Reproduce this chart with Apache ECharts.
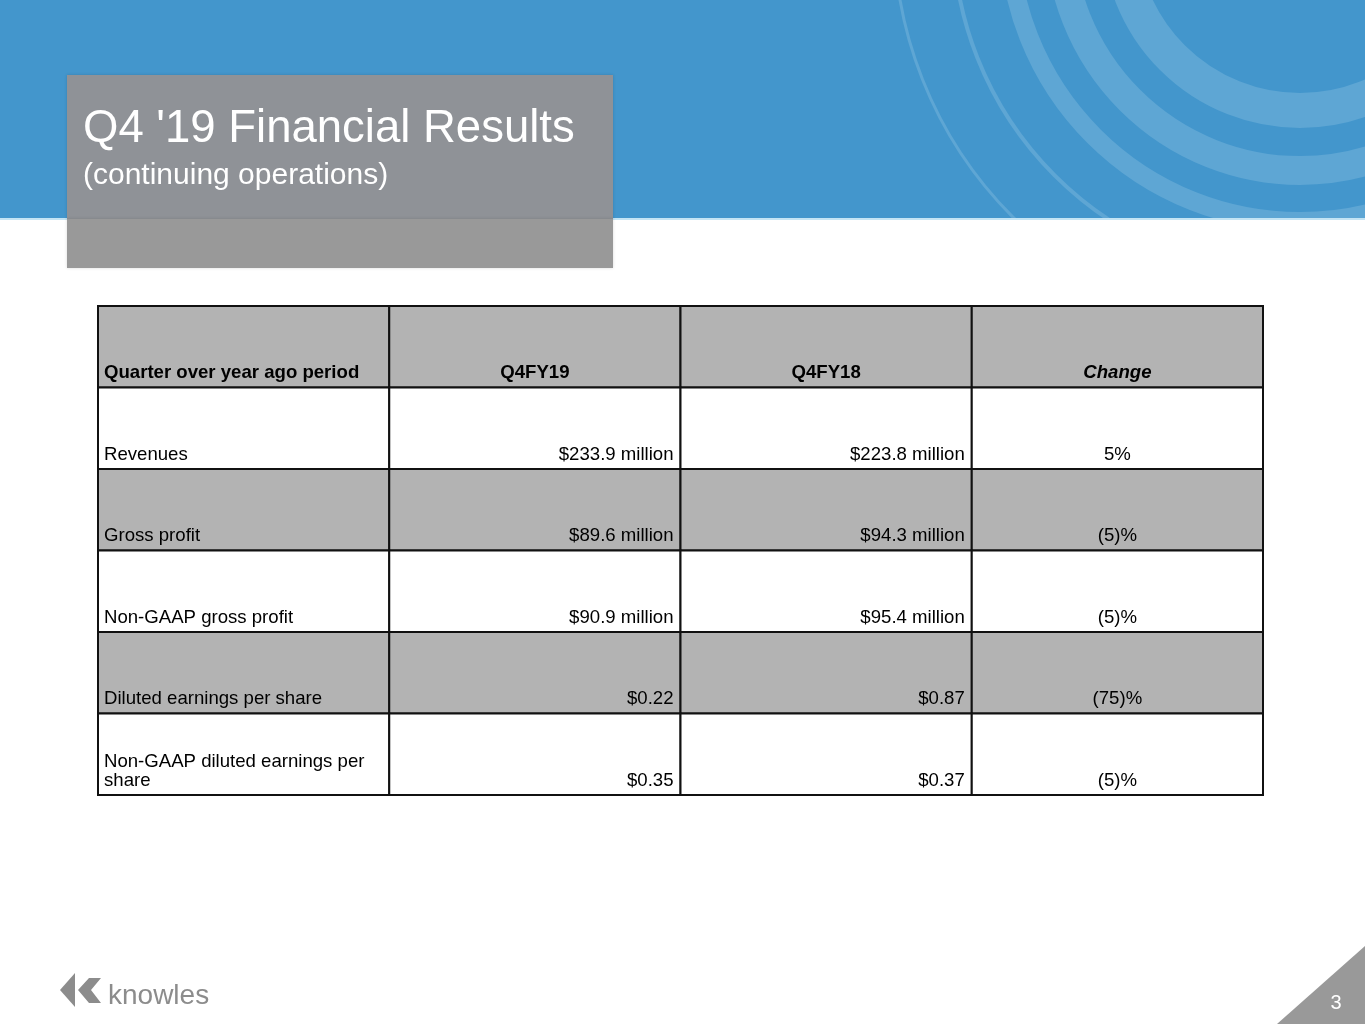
<!DOCTYPE html>
<html>
<head>
<meta charset="utf-8">
<script src="https://cdn.jsdelivr.net/npm/echarts@6/dist/echarts.min.js"></script>
<style>
  html, body { margin: 0; padding: 0; background: #fff; }
  #main { width: 1365px; height: 1024px; }
</style>
</head>
<body>
<div id="main"></div>
<script>
// table content
var headers = ['Quarter over year ago period', 'Q4FY19', 'Q4FY18', 'Change'];
var metrics = ['Revenues', 'Gross profit', 'Non-GAAP gross profit', 'Diluted earnings per share', 'Non-GAAP diluted earnings per\nshare'];
var q4fy19 = ['$233.9 million', '$89.6 million', '$90.9 million', '$0.22', '$0.35'];
var q4fy18 = ['$223.8 million', '$94.3 million', '$95.4 million', '$0.87', '$0.37'];
var change = ['5%', '(5)%', '(5)%', '(75)%', '(5)%'];

var FONT = '"Liberation Sans", Arial, Helvetica, sans-serif';

// build cell list: [col, row]
var cells = [];
var cellText = [];
headers.forEach(function (h, c) {
  cells.push([c, 0]);
  cellText.push(h);
});
metrics.forEach(function (m, i) {
  var row = [m, q4fy19[i], q4fy18[i], change[i]];
  row.forEach(function (t, c) {
    cells.push([c, i + 1]);
    cellText.push(t);
  });
});

var myChart = echarts.init(document.getElementById('main'));

// 单元格绘制
function renderCell(params, api) {
  var c = api.value(0), r = api.value(1);
  var p0 = api.coord([c, r]);
  var p1 = api.coord([c + 1, r + 1]);
  var x = p0[0], y = p0[1], w = p1[0] - p0[0], h = p1[1] - p0[1];
  var isHeader = r === 0;
  var fill = (r % 2 === 0) ? '#b3b3b3' : '#ffffff';
  var align, tx;
  if (c === 0) { align = 'left'; tx = x + 6; }
  else if (c === 3 || isHeader) { align = 'center'; tx = x + w / 2; }
  else { align = 'right'; tx = x + w - 7; }
  return {
    type: 'group',
    children: [{
      type: 'rect',
      shape: { x: x, y: y, width: w, height: h },
      style: { fill: fill, stroke: '#111', lineWidth: 2 }
    }, {
      type: 'text',
      x: tx,
      y: y + h - 5,
      style: {
        text: cellText[params.dataIndex],
        fill: '#000',
        fontFamily: FONT,
        fontSize: 18.6,
        fontWeight: isHeader ? 'bold' : 'normal',
        fontStyle: (isHeader && c === 3) ? 'italic' : 'normal',
        lineHeight: 19,
        align: align,
        verticalAlign: 'bottom'
      }
    }]
  };
}

var option = {
  backgroundColor: '#ffffff',
  animation: false,
  grid: { left: 98, top: 306, width: 1165, height: 489 },
  xAxis: { type: 'value', min: 0, max: 4, show: false },
  yAxis: { type: 'value', min: 0, max: 6, inverse: true, show: false },
  graphic: [
    // blue banner
    { type: 'rect', shape: { x: 0, y: 0, width: 1365, height: 219 }, style: { fill: '#4396cc' } },
    { type: 'circle', shape: { cx: 1300, cy: -70, r: 180.5 }, style: { fill: 'none', stroke: '#5ea6d4', lineWidth: 35 } },
    { type: 'circle', shape: { cx: 1300, cy: -70, r: 240.5 }, style: { fill: 'none', stroke: '#5ea6d4', lineWidth: 29 } },
    { type: 'circle', shape: { cx: 1300, cy: -70, r: 291.5 }, style: { fill: 'none', stroke: '#5ea6d4', lineWidth: 19 } },
    { type: 'circle', shape: { cx: 1300, cy: -70, r: 347 }, style: { fill: 'none', stroke: '#5ea6d4', lineWidth: 4 } },
    { type: 'circle', shape: { cx: 1300, cy: -70, r: 406 }, style: { fill: 'none', stroke: '#5ea6d4', lineWidth: 3 } },
    { type: 'rect', shape: { x: 0, y: 219, width: 1365, height: 140 }, style: { fill: '#ffffff' } },
    { type: 'rect', shape: { x: 0, y: 218, width: 1365, height: 2 }, style: { fill: '#c4e4f4' } },
    // title box
    { type: 'rect', shape: { x: 67, y: 75, width: 546, height: 144 }, style: { fill: '#8f9297', shadowBlur: 3, shadowColor: 'rgba(0,0,0,0.15)' } },
    { type: 'rect', shape: { x: 67, y: 219, width: 546, height: 49 }, style: { fill: '#999999', shadowBlur: 3, shadowColor: 'rgba(0,0,0,0.15)' } },
    { type: 'text', x: 83, y: 106, style: { text: "Q4 '19 Financial Results", fill: '#ffffff', fontFamily: FONT, fontSize: 45.5, verticalAlign: 'top' } },
    { type: 'text', x: 83, y: 161, style: { text: '(continuing operations)', fill: '#ffffff', fontFamily: FONT, fontSize: 30, verticalAlign: 'top' } },
    // logo
    { type: 'polygon', shape: { points: [[60, 990], [75, 973], [75, 1007]] }, style: { fill: '#8c8c8c' } },
    { type: 'polygon', shape: { points: [[78, 990], [89, 978], [101, 978], [91, 990], [101, 1003], [89, 1003]] }, style: { fill: '#8c8c8c' } },
    { type: 'text', x: 108, y: 982, style: { text: 'knowles', fill: '#8c8c8c', fontFamily: FONT, fontSize: 28, verticalAlign: 'top' } },
    // page number
    { type: 'polygon', shape: { points: [[1277, 1024], [1365, 946], [1365, 1024]] }, style: { fill: '#999999' } },
    { type: 'text', x: 1336, y: 1003, style: { text: '3', fill: '#ffffff', fontFamily: FONT, fontSize: 20, align: 'center', verticalAlign: 'middle' } }
  ],
  series: [{
    type: 'custom',
    renderItem: renderCell,
    encode: { x: 0, y: 1 },
    data: cells,
    silent: true,
    z: 10
  }]
};

myChart.setOption(option);
</script>
</body>
</html>
